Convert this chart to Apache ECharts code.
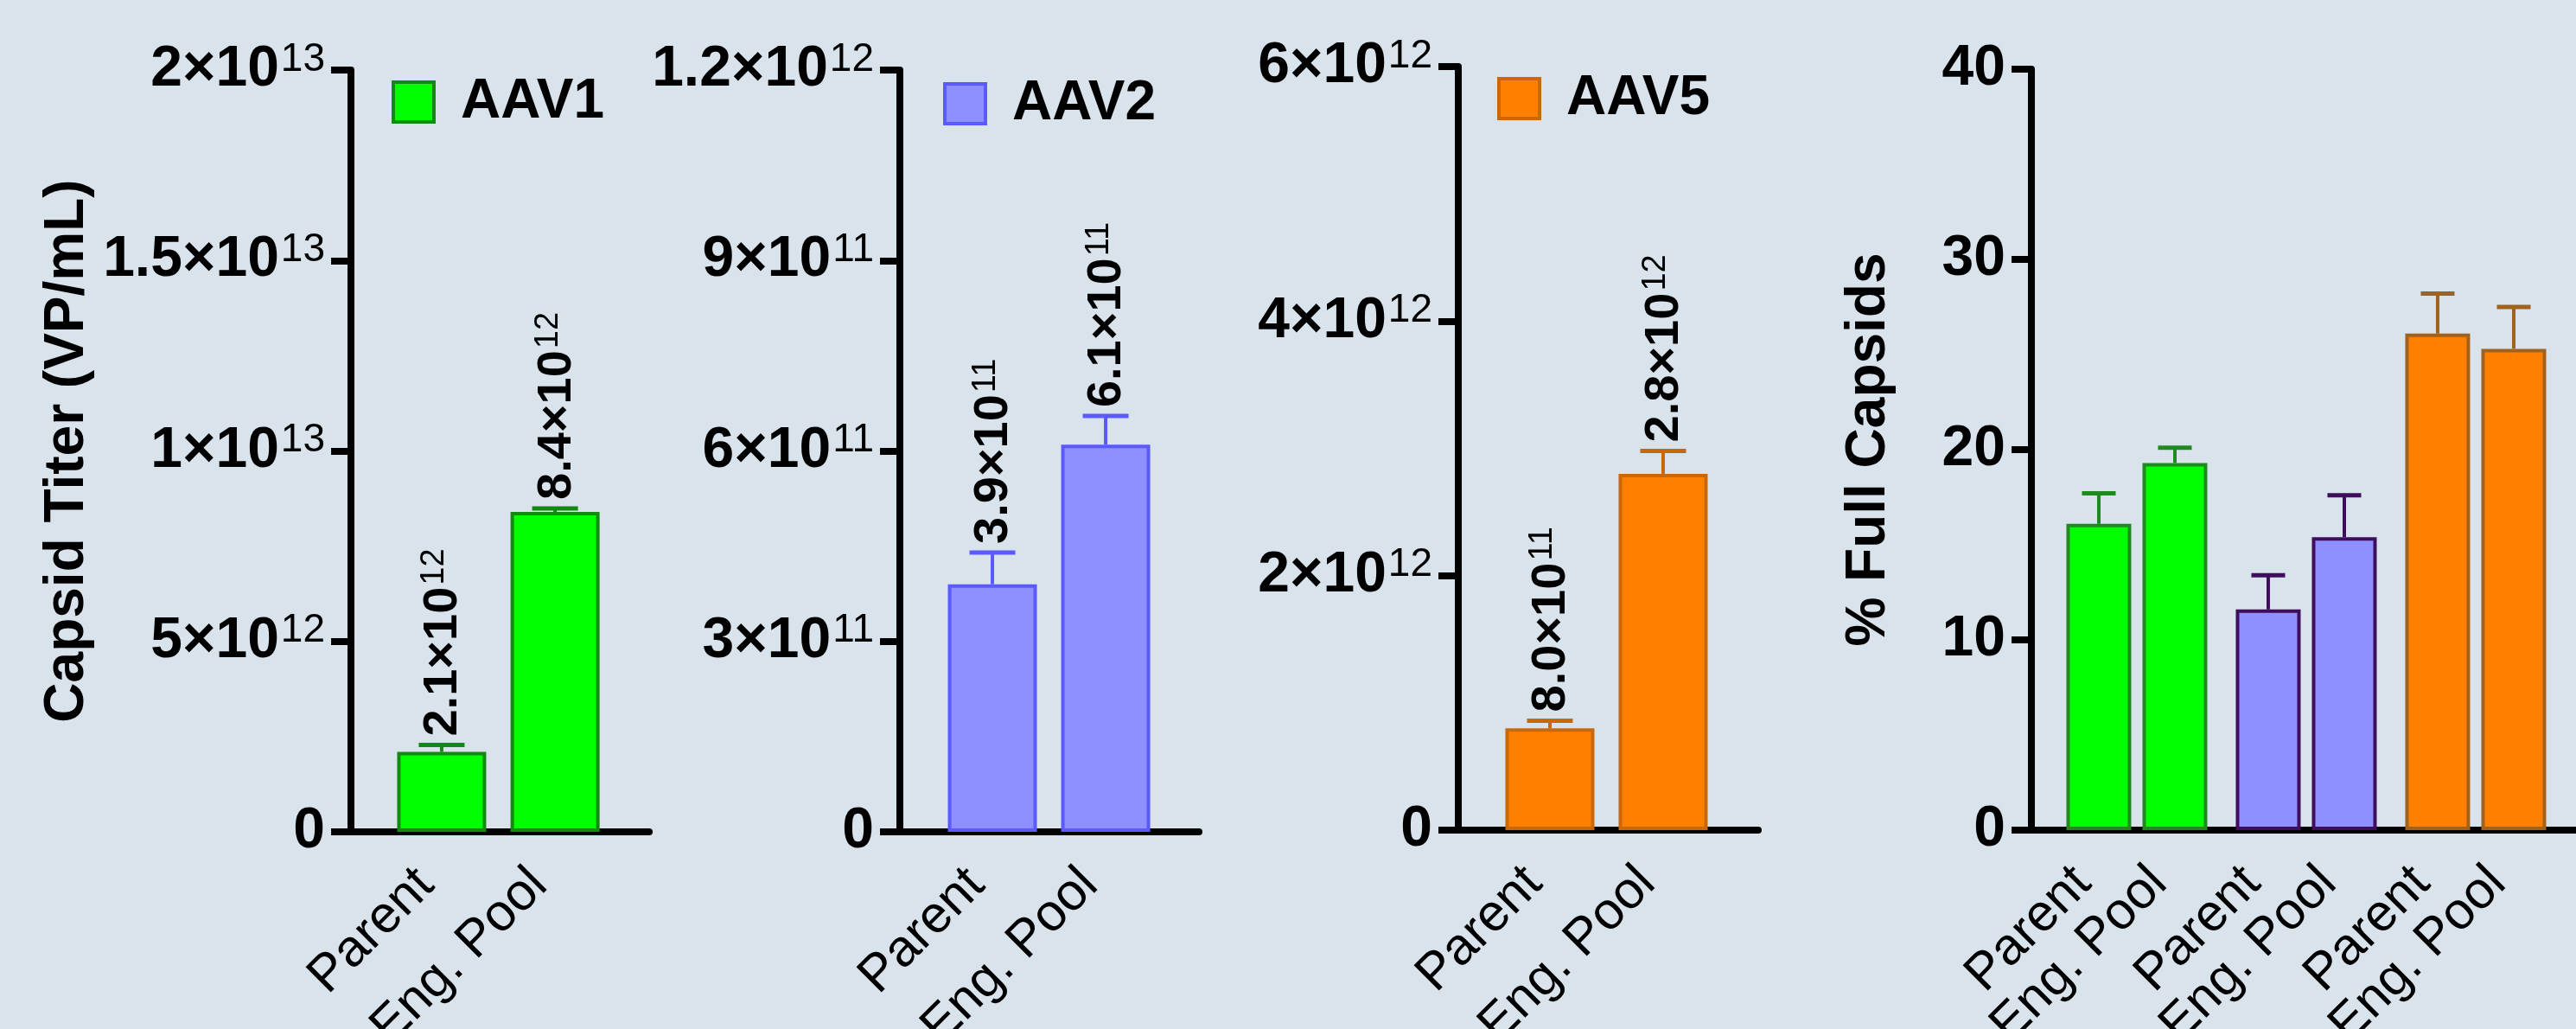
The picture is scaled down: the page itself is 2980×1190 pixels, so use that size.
<!DOCTYPE html>
<html><head><meta charset="utf-8">
<script src="https://cdn.jsdelivr.net/npm/echarts@6/dist/echarts.min.js"></script>
<style>html,body{margin:0;padding:0;background:#d9e3ec}#c{width:2980px;height:1190px}</style>
</head><body><div id="c"></div>
<script>
// ---------- data ----------
const groups = ['Parent', 'Eng. Pool'];
const serotypes = ['AAV1', 'AAV2', 'AAV5'];
const titerAAV1 = [2.1e12, 8.4e12];
const titerErrAAV1 = [0.18e12, 0.09e12];
const titerAAV2 = [3.9e11, 6.1e11];
const titerErrAAV2 = [0.5e11, 0.45e11];
const titerAAV5 = [8.0e11, 2.8e12];
const titerErrAAV5 = [0.6e11, 1.8e11];
const fullAAV1 = [16.1, 19.3];
const fullErrAAV1 = [1.6, 0.8];
const fullAAV2 = [11.6, 15.4];
const fullErrAAV2 = [1.8, 2.2];
const fullAAV5 = [26.1, 25.3];
const fullErrAAV5 = [2.1, 2.2];
const yTicks1 = [0, 5e12, 1e13, 1.5e13, 2e13];
const yTicks2 = [0, 3e11, 6e11, 9e11, 1.2e12];
const yTicks3 = [0, 2e12, 4e12, 6e12];
const yTicks4 = [0, 10, 20, 30, 40];
const yTitle1 = 'Capsid Titer (VP/mL)';
const yTitle4 = '% Full Capsids';

// ---------- styles ----------
const FONT = '"Liberation Sans", Arial, sans-serif';
const C = {
  AAV1: {fill: '#00ff00', border: '#128a12', border4: '#1f8a1f'},
  AAV2: {fill: '#8f8fff', border: '#5a5aff', border4: '#3e0d5c'},
  AAV5: {fill: '#ff8000', border: '#c8680a', border4: '#a0621c'}
};
const AXW = 8;

function sciParts(v, fixed) {
  const e = Math.floor(Math.log10(v) + 1e-9);
  const m = v / Math.pow(10, e);
  return [fixed ? m.toFixed(1) : String(parseFloat(m.toFixed(2))), e];
}
function tickFmt(v) {
  if (v === 0) return '{m|0}';
  if (v < 1000) return '{m|' + v + '}';
  const p = sciParts(v, false);
  return '{m|' + p[0] + '×10}{s|' + p[1] + '}';
}
const tickRich = {
  m: {fontSize: 66, fontWeight: 'bold', fontFamily: FONT, color: '#000', lineHeight: 70},
  s: {fontSize: 46, fontWeight: 'normal', fontFamily: FONT, color: '#000', verticalAlign: 'top', lineHeight: 50, padding: [0, 0, 16, 2]}
};
const labRich = {
  m: {fontSize: 56, fontWeight: 'bold', fontFamily: FONT, color: '#000', lineHeight: 58},
  s: {fontSize: 38, fontWeight: 'normal', fontFamily: FONT, color: '#000', verticalAlign: 'top', lineHeight: 42, padding: [0, 0, 12, 2]}
};

const grids = [
  {left: 406, top: 81, width: 345, height: 881, outerBoundsMode: 'none', containLabel: false},
  {left: 1041, top: 81, width: 346, height: 881, outerBoundsMode: 'none', containLabel: false},
  {left: 1687, top: 77, width: 347, height: 883, outerBoundsMode: 'none', containLabel: false},
  {left: 2350, top: 80, width: 640, height: 880, outerBoundsMode: 'none', containLabel: false}
];
const xRange = [[-0.80, 1.83], [-0.817, 1.824], [-0.809, 1.84], [-0.886, 6.386]];

// positions of bars in panel 4 (grouped by serotype)
const groupGap = 0.227;
const pos4 = [];
serotypes.forEach((s, g) => groups.forEach((_, i) => pos4.push(g * (groups.length + groupGap) + i)));
const pos12 = groups.map((_, i) => i);

function xAxisFor(i, positions) {
  return {
    type: 'value', gridIndex: i, min: xRange[i][0], max: xRange[i][1],
    axisLine: {show: true, onZero: false, lineStyle: {color: '#000', width: AXW}},
    axisTick: {show: false}, splitLine: {show: false},
    axisLabel: {
      show: true, rotate: 45, fontSize: 60, fontFamily: FONT, color: '#000', margin: 34,
      padding: [0, 26, 0, 0], hideOverlap: false,
      customValues: positions,
      formatter: v => { const k = positions.findIndex(p => Math.abs(p - v) < 1e-6); return k < 0 ? '' : groups[k % groups.length]; }
    }
  };
}
function yAxisFor(i, ticks, name, nameGap) {
  return {
    type: 'value', gridIndex: i, min: 0, max: ticks[ticks.length - 1], interval: ticks[1] - ticks[0],
    name: name || '', nameLocation: 'middle', nameGap: nameGap || 0,
    nameTextStyle: {fontSize: 64, fontWeight: 'bold', fontFamily: FONT, color: '#000'},
    axisLine: {show: true, onZero: false, lineStyle: {color: '#000', width: AXW}},
    axisTick: {show: true, length: 23, lineStyle: {color: '#000', width: AXW}},
    splitLine: {show: false},
    axisLabel: {margin: 30, formatter: tickFmt, rich: tickRich}
  };
}

function barSeries(i, name, positions, values, fills, borders, bw) {
  return {
    type: 'bar', name: name, xAxisIndex: i, yAxisIndex: i, barWidth: bw,
    itemStyle: {color: fills[0], borderColor: borders[0], borderWidth: 4},
    data: values.map((v, k) => ({value: [positions[k], v], itemStyle: {color: fills[k], borderColor: borders[k], borderWidth: 4}})),
    z: 2
  };
}
function errSeries(i, positions, values, errs, colors, capW, withLabel) {
  return {
    type: 'custom', xAxisIndex: i, yAxisIndex: i, silent: true, z: 4,
    data: values.map((v, k) => [positions[k], v, errs[k], k]),
    renderItem: function (params, api) {
      const x = api.value(0), v = api.value(1), e = api.value(2), k = api.value(3);
      const b = api.coord([x, v]), t = api.coord([x, v + e]);
      const col = colors[k];
      const ch = [
        {type: 'line', shape: {x1: b[0], y1: b[1], x2: t[0], y2: t[1]}, style: {stroke: col, lineWidth: 4}},
        {type: 'line', shape: {x1: t[0] - capW / 2, y1: t[1], x2: t[0] + capW / 2, y2: t[1]}, style: {stroke: col, lineWidth: 5}}
      ];
      if (withLabel) {
        const p = sciParts(v, true);
        ch.push({type: 'text', x: t[0] + 2, y: t[1] - 10, rotation: Math.PI / 2,
          style: {text: '{m|' + p[0] + '×10}{s|' + p[1] + '}', rich: labRich, align: 'left', verticalAlign: 'middle'}});
      }
      return {type: 'group', children: ch};
    }
  };
}

const panels = [
  {vals: titerAAV1, errs: titerErrAAV1, s: 'AAV1'},
  {vals: titerAAV2, errs: titerErrAAV2, s: 'AAV2'},
  {vals: titerAAV5, errs: titerErrAAV5, s: 'AAV5'}
];
const series = [];
panels.forEach((p, i) => {
  const c = C[p.s];
  series.push(barSeries(i, p.s, pos12, p.vals, [c.fill, c.fill], [c.border, c.border], 103));
  series.push(errSeries(i, pos12, p.vals, p.errs, [c.border, c.border], 53, true));
});
const full = [fullAAV1, fullAAV2, fullAAV5];
const fullErr = [fullErrAAV1, fullErrAAV2, fullErrAAV5];
const v4 = [], e4 = [], f4 = [], b4 = [];
serotypes.forEach((s, g) => groups.forEach((_, k) => {
  v4.push(full[g][k]); e4.push(fullErr[g][k]); f4.push(C[s].fill); b4.push(C[s].border4);
}));
series.push(barSeries(3, 'Full', pos4, v4, f4, b4, 75));
series.push(errSeries(3, pos4, v4, e4, b4, 39, false));

const legendPos = [[453, 86], [1091, 88], [1732, 82]];
const legends = serotypes.map((s, i) => ({
  data: [s], left: legendPos[i][0], top: legendPos[i][1], orient: 'horizontal',
  icon: 'rect', itemWidth: 47, itemHeight: 46, padding: 0,
  itemStyle: {borderWidth: 4},
  textStyle: {fontSize: 64, fontWeight: 'bold', fontFamily: FONT, color: '#000', padding: [0, 0, 0, 26]},
  selectedMode: false
}));

const chart = echarts.init(document.getElementById('c'), null, {renderer: 'canvas'});
chart.setOption({
  backgroundColor: '#d9e3ec',
  animation: false,
  grid: grids,
  legend: legends,
  xAxis: [xAxisFor(0, pos12), xAxisFor(1, pos12), xAxisFor(2, pos12), xAxisFor(3, pos4)],
  yAxis: [yAxisFor(0, yTicks1, yTitle1, 296), yAxisFor(1, yTicks2), yAxisFor(2, yTicks3), yAxisFor(3, yTicks4, yTitle4, 156)],
  series: series
});
</script></body></html>
